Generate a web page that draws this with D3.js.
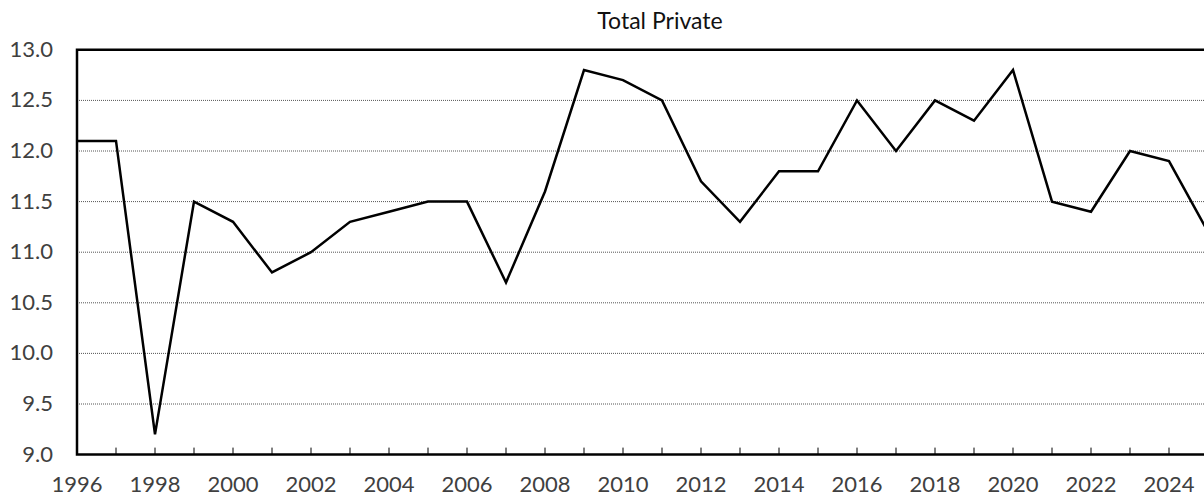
<!DOCTYPE html>
<html><head><meta charset="utf-8">
<script src="https://cdn.jsdelivr.net/npm/d3@7"></script>
<style>body{margin:0;background:#fff;} svg{display:block;}</style>
</head><body>
<svg id="c" width="1204" height="497"></svg>
<script>
const years = [1996,1997,1998,1999,2000,2001,2002,2003,2004,2005,2006,2007,2008,2009,2010,2011,2012,2013,2014,2015,2016,2017,2018,2019,2020,2021,2022,2023,2024,2025];
const values = [12.1,12.1,9.2,11.5,11.3,10.8,11.0,11.3,11.4,11.5,11.5,10.7,11.6,12.8,12.7,12.5,11.7,11.3,11.8,11.8,12.5,12.0,12.5,12.3,12.8,11.5,11.4,12.0,11.9,11.2];
const yTicks = [9.0,9.5,10.0,10.5,11.0,11.5,12.0,12.5,13.0];
const xLabels = [1996,1998,2000,2002,2004,2006,2008,2010,2012,2014,2016,2018,2020,2022,2024];
const title = "Total Private";

const svg = d3.select("#c");
const font = "Lato, 'Noto Sans', sans-serif";
const mLeft = 77, mTop = 49.8, mBottom = 454.6;
const x = d3.scaleLinear().domain([1996, 2025]).range([mLeft, mLeft + 29*39]);
const y = d3.scaleLinear().domain([9, 13]).range([mBottom, mTop]);

// gridlines
svg.append("g").selectAll("line").data(yTicks.filter(d => d > 9 && d < 13)).join("line")
  .attr("x1", mLeft).attr("x2", 1204)
  .attr("y1", d => y(d)).attr("y2", d => y(d))
  .attr("stroke", "#555").attr("stroke-width", 1).attr("stroke-dasharray", "1,1");

// frame
svg.append("path")
  .attr("d", `M1210,${y(13)}H${mLeft}V${y(9)}H1210`)
  .attr("fill", "none").attr("stroke", "#000").attr("stroke-width", 2.5);

// x ticks (inside, every year)
svg.append("g").selectAll("line").data(years.slice(1)).join("line")
  .attr("x1", d => x(d)).attr("x2", d => x(d))
  .attr("y1", y(9)).attr("y2", y(9) - 7)
  .attr("stroke", "#000").attr("stroke-width", 1);

// y labels
svg.append("g").selectAll("text").data(yTicks).join("text")
  .attr("x", 53).attr("y", d => y(d) - 1).attr("dy", "0.36em")
  .attr("text-anchor", "end").attr("font-family", font).attr("font-size", 22)
  .attr("fill", "#404040").text(d => d.toFixed(1));

// x labels
svg.append("g").selectAll("text").data(xLabels).join("text")
  .attr("x", d => x(d)).attr("y", 492)
  .attr("text-anchor", "middle").attr("font-family", font).attr("font-size", 22)
  .attr("fill", "#404040").text(d => d);

// title
svg.append("text").attr("x", 660).attr("y", 29).attr("text-anchor", "middle")
  .attr("font-family", font).attr("font-size", 23).attr("fill", "#111").text(title);

// line
const line = d3.line().x((d, i) => x(years[i])).y(d => y(d));
svg.append("path").datum(values).attr("d", line)
  .attr("fill", "none").attr("stroke", "#000").attr("stroke-width", 2.5)
  .attr("stroke-linejoin", "miter");
</script>
</body></html>
